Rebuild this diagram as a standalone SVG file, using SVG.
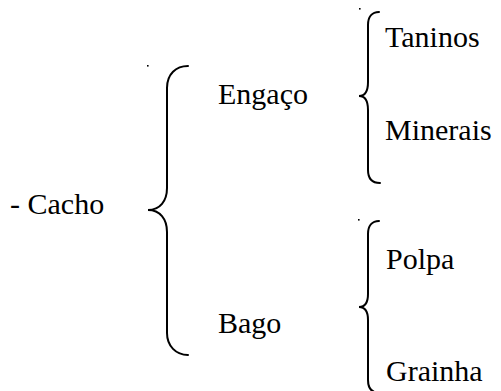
<svg xmlns="http://www.w3.org/2000/svg" width="501" height="391" viewBox="0 0 501 391">
<style>
.b{fill:none;stroke:#000;stroke-width:2;stroke-linecap:round}
</style>
<rect width="501" height="391" fill="#fff"/>
<g id="connectors">
<path id="brace-cacho" class="b" d="M188,66 C176,66 167,74 167,88 L167,188 C167,201 160,210 148,210 C160,210 167,219 167,232 L167,333 C167,346 176,355 188,355"/>
<path id="brace-engaco" class="b" d="M379,12 C372,12 368,17 368,25 L368,82 C368,91 365,96 359,96 C365,96 368,101 368,110 L368,170 C368,178 372,183 380,183"/>
<path id="brace-bago" class="b" d="M379,221 C372,221 368,226 368,234 L368,294 C368,302 365,307 359,307 C365,307 368,312 368,320 L368,380 C368,388 372,393 380,393"/>
<rect x="147" y="65" width="1.6" height="1.6" fill="#000"/>
<rect x="359" y="8" width="1.6" height="1.6" fill="#000"/>
<rect x="358" y="219" width="1.6" height="1.6" fill="#000"/>
</g>
<g id="cacho"><text x="10" y="214" font-family="Times New Roman" font-size="30">- Cacho</text></g>
<g id="engaco"><text x="218" y="104" font-family="Times New Roman" font-size="30">Engaço</text></g>
<g id="bago"><text x="218" y="333" font-family="Times New Roman" font-size="30">Bago</text></g>
<g id="taninos"><text x="385" y="47" font-family="Times New Roman" font-size="30">Taninos</text></g>
<g id="minerais"><text x="385" y="140" font-family="Times New Roman" font-size="30">Minerais</text></g>
<g id="polpa"><text x="386" y="269" font-family="Times New Roman" font-size="30">Polpa</text></g>
<g id="grainha"><text x="386" y="381" font-family="Times New Roman" font-size="30">Grainha</text></g>
</svg>
